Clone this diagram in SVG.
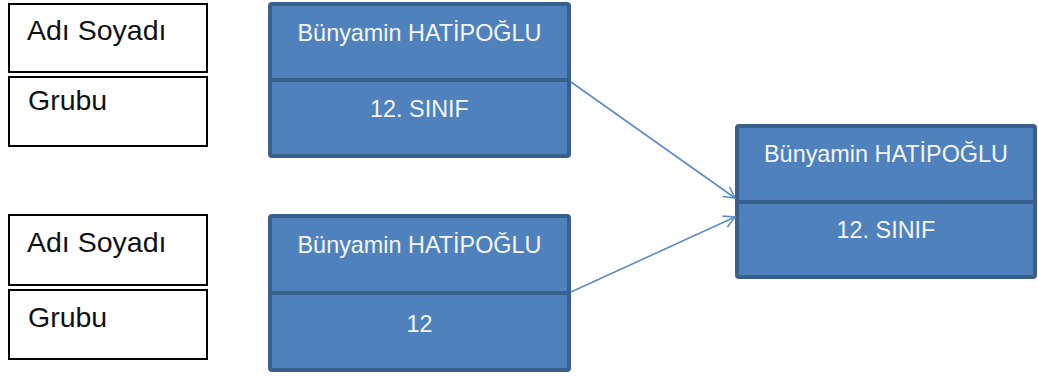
<svg xmlns="http://www.w3.org/2000/svg" width="1038" height="378" viewBox="0 0 1038 378">
<style>
.lbl{fill:#fff;stroke:#000;stroke-width:2}
.lt{font-family:"Liberation Sans",Arial,sans-serif;font-size:28.5px;fill:#111}
.blue{fill:#4f81bd;stroke:#3a5f8c;stroke-width:4}
.div{stroke:#3a5f8c;stroke-width:4}
.bt{font-family:"Liberation Sans",Arial,sans-serif;font-size:23.4px;fill:#f4f6fa;text-anchor:middle}
.conn{stroke:#5b8cc8;stroke-width:1.6;fill:none}
</style>
<defs>
<marker id="arr" markerWidth="14" markerHeight="14" refX="12" refY="7" orient="auto" markerUnits="userSpaceOnUse">
<path d="M1,1 L12,7 L1,13" fill="none" stroke="#5b8cc8" stroke-width="1.6"/>
</marker>
</defs>
<rect width="1038" height="378" fill="#fff"/>
<g id="label-top-name"><rect class="lbl" x="9" y="4" width="198" height="68"/><text class="lt" x="27" y="40">Adı Soyadı</text></g>
<g id="label-top-group"><rect class="lbl" x="9" y="77" width="198" height="69"/><text class="lt" x="28" y="110">Grubu</text></g>
<g id="label-bottom-name"><rect class="lbl" x="9" y="215" width="198" height="70"/><text class="lt" x="27" y="252">Adı Soyadı</text></g>
<g id="label-bottom-group"><rect class="lbl" x="9" y="290" width="198" height="69"/><text class="lt" x="28" y="327">Grubu</text></g>
<g id="record-top">
<rect class="blue" x="270" y="4" width="299" height="152" rx="2"/>
<line class="div" x1="270" y1="80" x2="569" y2="80"/>
<text class="bt" x="419.5" y="41">Bünyamin HATİPOĞLU</text>
<text class="bt" x="419.5" y="117">12. SINIF</text>
</g>
<g id="record-bottom">
<rect class="blue" x="270" y="216" width="299" height="154" rx="2"/>
<line class="div" x1="270" y1="293" x2="569" y2="293"/>
<text class="bt" x="419.5" y="253">Bünyamin HATİPOĞLU</text>
<text class="bt" x="419.5" y="332">12</text>
</g>
<g id="record-result">
<rect class="blue" x="737" y="126" width="298" height="151" rx="2"/>
<line class="div" x1="737" y1="202" x2="1035" y2="202"/>
<text class="bt" x="886" y="162">Bünyamin HATİPOĞLU</text>
<text class="bt" x="886" y="238">12. SINIF</text>
</g>
<g id="connectors">
<line class="conn" x1="571" y1="82" x2="735" y2="198" marker-end="url(#arr)"/>
<line class="conn" x1="571" y1="292" x2="735" y2="217" marker-end="url(#arr)"/>
</g>
</svg>
